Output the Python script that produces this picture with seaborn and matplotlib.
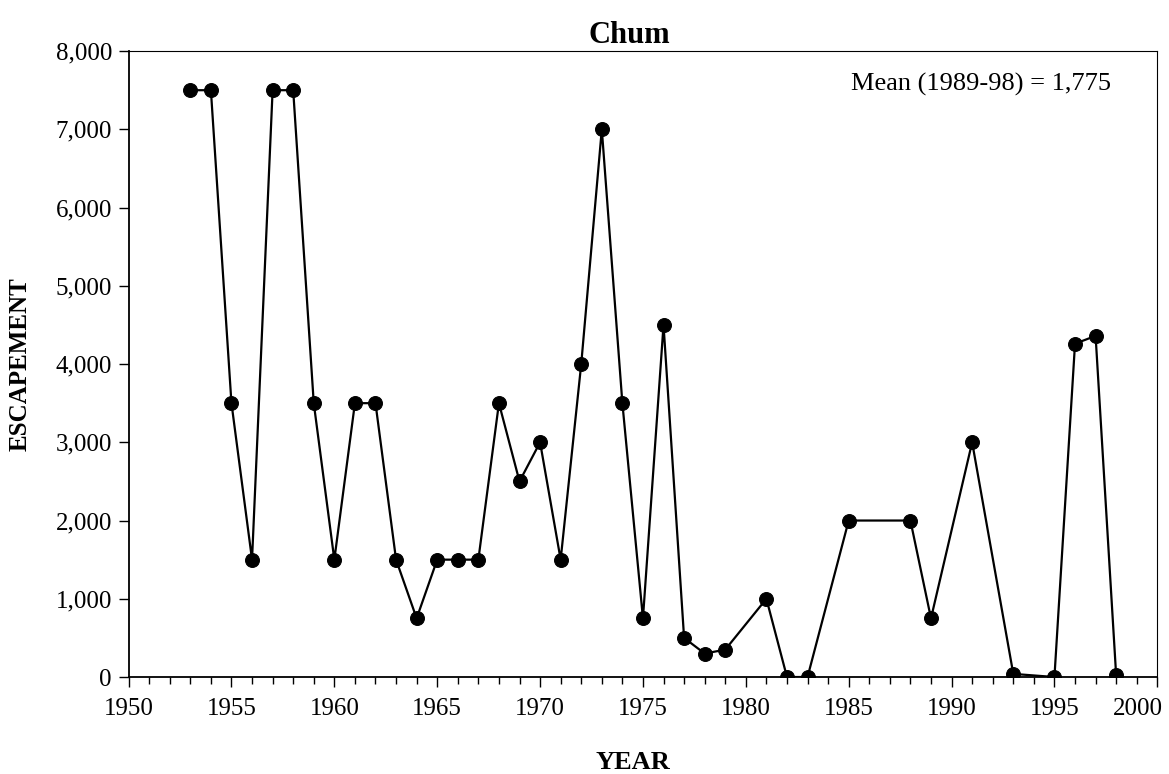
import matplotlib
matplotlib.use("Agg")
import matplotlib.pyplot as plt
import matplotlib.transforms as mtransforms
import seaborn as sns
import pandas as pd
from matplotlib.ticker import FuncFormatter, MultipleLocator

years = [1953, 1954, 1955, 1956, 1957, 1958, 1959, 1960, 1961, 1962, 1963, 1964,
         1965, 1966, 1967, 1968, 1969, 1970, 1971, 1972, 1973, 1974, 1975, 1976,
         1977, 1978, 1979, 1981, 1982, 1983, 1985, 1988, 1989, 1991, 1993, 1995,
         1996, 1997, 1998]
escapement = [7500, 7500, 3500, 1500, 7500, 7500, 3500, 1500, 3500, 3500, 1500, 750,
              1500, 1500, 1500, 3500, 2500, 3000, 1500, 4000, 7000, 3500, 750, 4500,
              500, 300, 350, 1000, 0, 0, 2000, 2000, 750, 3000, 40, 0,
              4260, 4360, 20]
x_min, x_max = 1950, 2000

df = pd.DataFrame({"YEAR": years, "ESCAPEMENT": escapement})

sns.set_theme(style="ticks")
plt.rcParams['font.family'] = ['Liberation Serif', 'DejaVu Serif']
plt.rcParams['text.color'] = 'black'
plt.rcParams['axes.labelcolor'] = 'black'
plt.rcParams['xtick.color'] = 'black'
plt.rcParams['ytick.color'] = 'black'

fig = plt.figure(figsize=(11.69, 7.74), dpi=100)
ax = fig.add_axes([0.110, 0.1253, 0.880, 0.8087])

sns.lineplot(data=df, x="YEAR", y="ESCAPEMENT", ax=ax, color="black",
             linewidth=1.6, marker="o", markersize=10, markeredgecolor="black",
             markerfacecolor="black", sort=True)

ax.set_xlim(x_min, x_max)
ax.set_ylim(0, 8000)
ax.xaxis.set_major_locator(MultipleLocator(5))
ax.xaxis.set_minor_locator(MultipleLocator(1))
ax.xaxis.set_major_formatter(FuncFormatter(lambda v, p: "" if v >= x_max else f"{int(v)}"))
ax.yaxis.set_major_locator(MultipleLocator(1000))
ax.yaxis.set_major_formatter(FuncFormatter(lambda v, p: f"{int(v):,}"))

ax.tick_params(axis="both", which="major", direction="out", length=7, width=1,
               labelsize=18, colors="black")
ax.tick_params(axis="x", which="major", pad=8)
ax.tick_params(axis="y", which="major", pad=5)
ax.tick_params(axis="x", which="minor", direction="out", length=5, width=1)

# last x tick label, shifted inward so it fits the figure (as in the original)
trans = mtransforms.blended_transform_factory(ax.transData, ax.transAxes) + \
    mtransforms.ScaledTranslation(6/100, -15/72, fig.dpi_scale_trans)
ax.text(x_max, 0, f"{x_max}", transform=trans, ha="right", va="top", fontsize=18,
        color="black")

for s in ax.spines.values():
    s.set_color("black")
ax.spines["left"].set_linewidth(1.3)
ax.spines["bottom"].set_linewidth(1.3)
ax.spines["top"].set_linewidth(0.8)
ax.spines["right"].set_linewidth(0.8)

ax.set_title("Chum", fontsize=22, fontweight="bold", pad=6, x=0.487, color="black")
ax.set_xlabel("YEAR", fontsize=19, fontweight="bold", color="black")
ax.xaxis.set_label_coords(0.49, -0.118)
ax.set_ylabel("ESCAPEMENT", fontsize=18, fontweight="bold", color="black")
ax.yaxis.set_label_coords(-0.094, 0.5)

ax.text(0.955, 0.965, "Mean (1989-98) = 1,775", transform=ax.transAxes,
        ha="right", va="top", fontsize=19, color="black")

fig.savefig("out.png", dpi=100)
